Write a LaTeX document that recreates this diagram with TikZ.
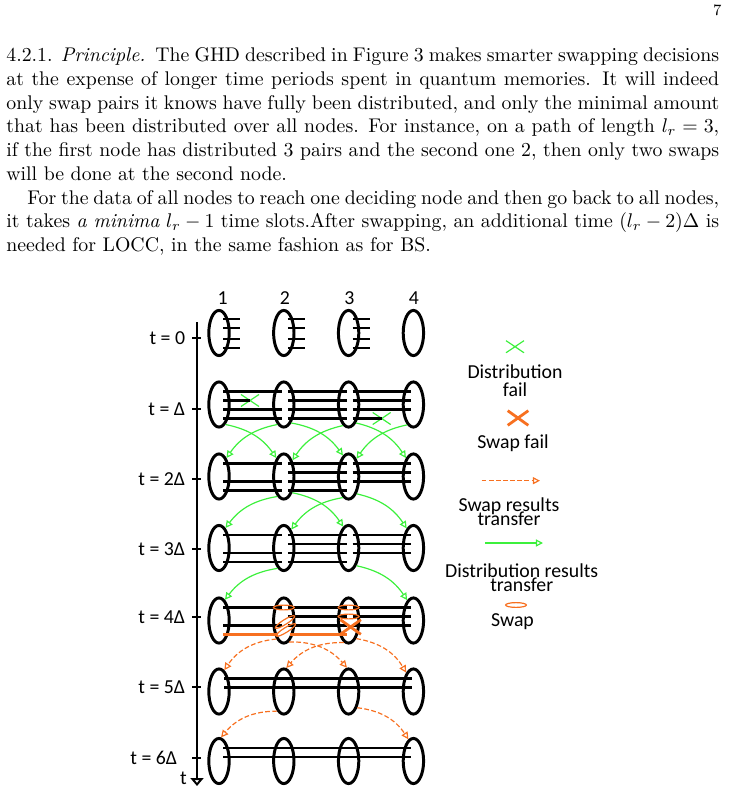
\documentclass[tikz,border=0pt]{standalone}
\usepackage{amsmath,amssymb}
\usepackage{fontspec}
\usepackage{xcolor}
\usepackage{tikz}
\usetikzlibrary{arrows.meta,positioning,shapes.geometric,shapes.misc}
\newfontfamily\figfont{Carlito}
\newcommand\tightlines{\lineskiplimit-100pt\lineskip0pt\relax}
\definecolor{distgreen}{RGB}{60,240,60}
\definecolor{swaporange}{RGB}{247,112,32}

\begin{document}
\begin{tikzpicture}[
		x=0.50505pt, y=-0.50505pt,
		memo/.style={
			ellipse,
			draw,
			line width=1.5pt,
			minimum width=10.3pt,
			minimum height=22.8pt,
			inner sep=0pt
		},
		pair/.style={line width=1.1pt},
		swappair/.style={line width=1.1pt, draw=swaporange},
		distarrow/.style={-{Triangle[open,length=3.6pt,width=3.6pt]}, draw=distgreen, line width=0.6pt},
		swaparrow/.style={-{Triangle[open,length=3.6pt,width=3.6pt]}, draw=swaporange, line width=0.6pt, dash pattern=on 2.4pt off 1.2pt},
		swapring/.style={ellipse, draw=swaporange, line width=0.6pt, minimum width=10.5pt, minimum height=2.4pt, inner sep=0pt},
		distfail/.style={cross out, draw=distgreen, line width=0.6pt, minimum width=8.5pt, minimum height=5.5pt, inner sep=0pt},
		swapfail/.style={cross out, draw=swaporange, line width=1.4pt, minimum width=9pt, minimum height=6pt, inner sep=0pt},
		lbl/.style={font=\figfont\fontsize{10}{12}\selectfont, inner sep=0pt},
		legend/.style={font=\figfont\fontsize{10}{7}\selectfont\tightlines, align=center, inner sep=0pt}
		]
		\useasboundingbox (0,0) rectangle (730,794);

		\node[anchor=base east, inner sep=0pt, font=\fontsize{8}{9.5}\selectfont] (pageno) at (722,16) {7};
		\node[anchor=base west, text width=360pt, align=justify, inner sep=0pt, font=\fontsize{10}{12}\selectfont] (body) at (6,61.5) {4.2.1. \textit{Principle.}\enspace The GHD described in Figure 3 makes smarter swapping decisions at the expense of longer time periods spent in quantum memories. It will indeed only swap pairs it knows have fully been distributed, and only the minimal amount that has been distributed over all nodes. For instance, on a path of length $l_r = 3$, if the first node has distributed 3 pairs and the second one 2, then only two swaps will be done at the second node.\par
		\hspace*{10.6pt}For the data of all nodes to reach one deciding node and then go back to all nodes, it takes \textit{a minima} $l_r - 1$ time slots.After swapping, an additional time $(l_r - 2)\Delta$ is needed for LOCC, in the same fashion as for BS.};

		\foreach \r/\yy in {0/333,1/404.5,2/476.5,3/548,4/620.5,5/691.5,6/761}
			\foreach \c/\xx in {1/219,2/283.8,3/348.6,4/413.4}
				\node[memo] (m\c\r) at (\xx,\yy) {};

		\node[lbl] (c1) at (222.7,298) {1};
		\node[lbl] (c2) at (285,298) {2};
		\node[lbl] (c3) at (349.3,298) {3};
		\node[lbl] (c4) at (414,298) {4};

		\coordinate (ax0) at (197,322);
		\coordinate (ax1) at (197,786);
		\draw[line width=1pt, -{Triangle[open,length=4pt,width=6.5pt]}] (ax0) -- (ax1);
		\node[lbl] (tname) at (183.5,778) {t};
		\foreach \yy/\tt/\xx in {338/0/185.5,409/Δ/185.5,479/2Δ/185.5,549/3Δ/185.5,617/4Δ/185.5,687/5Δ/185.5,758/6Δ/177.5} {
			\draw[line width=1pt] (192,\yy) -- (201,\yy);
			\node[lbl, anchor=east] at (\xx,\yy) {t = \tt};
		}

		\foreach \c in {1,2,3}
			\foreach \l in {-14,-5,6,15}
				\draw[pair] ([shift={(4,\l)}]m\c0.center) -- ([shift={(21,\l)}]m\c0.center);

		\node[distfail] (f1) at (250,400.5) {};
		\node[distfail] (f2) at (381.7,418.5) {};
		\draw[pair] ([shift={(4,-4)}]m11.center) -- (f1.center);
		\draw[pair] ([shift={(4,14)}]m31.center) -- (f2.center);
		\foreach \r in {1,2,3} {
			\foreach \l in {-13,5,14}
				\draw[pair] ([shift={(4,\l)}]m1\r.center) -- ([shift={(-2,\l)}]m2\r.center);
			\foreach \l in {-13,-4,5,14}
				\draw[pair] ([shift={(4,\l)}]m2\r.center) -- ([shift={(-2,\l)}]m3\r.center);
			\foreach \l in {-13,-4,5}
				\draw[pair] ([shift={(4,\l)}]m3\r.center) -- ([shift={(-2,\l)}]m4\r.center);
		}

		\foreach \l in {-13,5}
			\draw[pair] ([shift={(4,\l)}]m14.center) -- ([shift={(-2,\l)}]m24.center);
		\foreach \l in {-13,-4,5} {
			\draw[pair] ([shift={(4,\l)}]m24.center) -- ([shift={(-2,\l)}]m34.center);
			\draw[pair] ([shift={(4,\l)}]m34.center) -- ([shift={(-2,\l)}]m44.center);
		}
		\draw[swappair] ([shift={(4,14)}]m14.center) -- ([shift={(-6,14)}]m24.center);
		\draw[swappair] ([shift={(6,14)}]m24.center) -- ([shift={(-2,14)}]m34.center);
		\node[swapring] (s1) at ([shift={(0,-13)}]m24.center) {};
		\node[swapring, rotate=32, minimum width=11.5pt] (s2) at ([shift={(1.2,1.5)}]m24.center) {};
		\node[swapring, rotate=32, minimum width=11.5pt] (s3) at ([shift={(2,9.5)}]m24.center) {};
		\node[swapring] (s4) at ([shift={(0,-13)}]m34.center) {};
		\node[swapring] (s5) at ([shift={(0,-4)}]m34.center) {};
		\node[swapfail] (sf) at ([shift={(2,6.5)}]m34.center) {};

		\foreach \l in {-13,-4} {
			\draw[pair] ([shift={(5,\l)}]m15.center) -- ([shift={(-1,\l)}]m45.center);
			\draw[pair] ([shift={(4,\l)}]m16.center) -- ([shift={(-2,\l)}]m46.center);
		}

		\draw[distarrow] (m11.-72) to[bend left=22] (m22.112);
		\draw[distarrow] (m21.-108) to[bend right=22] (m12.68);
		\draw[distarrow] (m21.-68) to[bend left=22] (m32.105);
		\draw[distarrow] (m31.-105) to[bend right=22] (m22.62);
		\draw[distarrow] (m31.-68) to[bend left=22] (m42.112);
		\draw[distarrow] (m41.-107) to[bend right=22] (m32.66);

		\draw[distarrow] (m22.-108) to[bend right=22] (m13.72);
		\draw[distarrow] (m22.-62) to[bend left=22] (m33.104);
		\draw[distarrow] (m32.-105) to[bend right=22] (m23.68);
		\draw[distarrow] (m32.-65) to[bend left=22] (m43.109);

		\draw[distarrow] (m23.-107) to[bend right=22] (m14.74);
		\draw[distarrow] (m33.-66) to[bend left=22] (m44.107);

		\draw[swaparrow] (m24.-112) to[bend right=25] (m15.76);
		\draw[swaparrow] (m24.-76) to[bend left=25] (m35.94);
		\draw[swaparrow] (m34.-102) to[bend right=25] (m25.84);
		\draw[swaparrow] (m34.-67) to[bend left=25] (m45.111);

		\draw[swaparrow] (m25.-109) to[bend right=25] (m16.85);
		\draw[swaparrow] (m35.-62) to[bend left=25] (m46.103);

		\node[distfail] (lgf) at (515,346.7) {};
		\node[legend, font=\figfont\fontsize{10}{9}\selectfont] (lgft) at (515,381) {Distribution\\fail};
		\node[swapfail] (lgs) at (518,418) {};
		\node[lbl] (lgst) at (513,443) {Swap fail};
		\coordinate (lga0) at (481.7,480.7);
		\coordinate (lga1) at (540,480.7);
		\draw[swaparrow] (lga0) -- (lga1);
		\node[legend] (lgat) at (509,512) {Swap results\\transfer};
		\coordinate (lgb0) at (485,543);
		\coordinate (lgb1) at (543,543);
		\draw[distarrow] (lgb0) -- (lgb1);
		\node[legend] (lgbt) at (521.7,577.5) {Distribution results\\transfer};
		\node[swapring] (lgr) at (516,605) {};
		\node[lbl] (lgrt) at (512.5,621.5) {Swap};
	\end{tikzpicture}
\end{document}
